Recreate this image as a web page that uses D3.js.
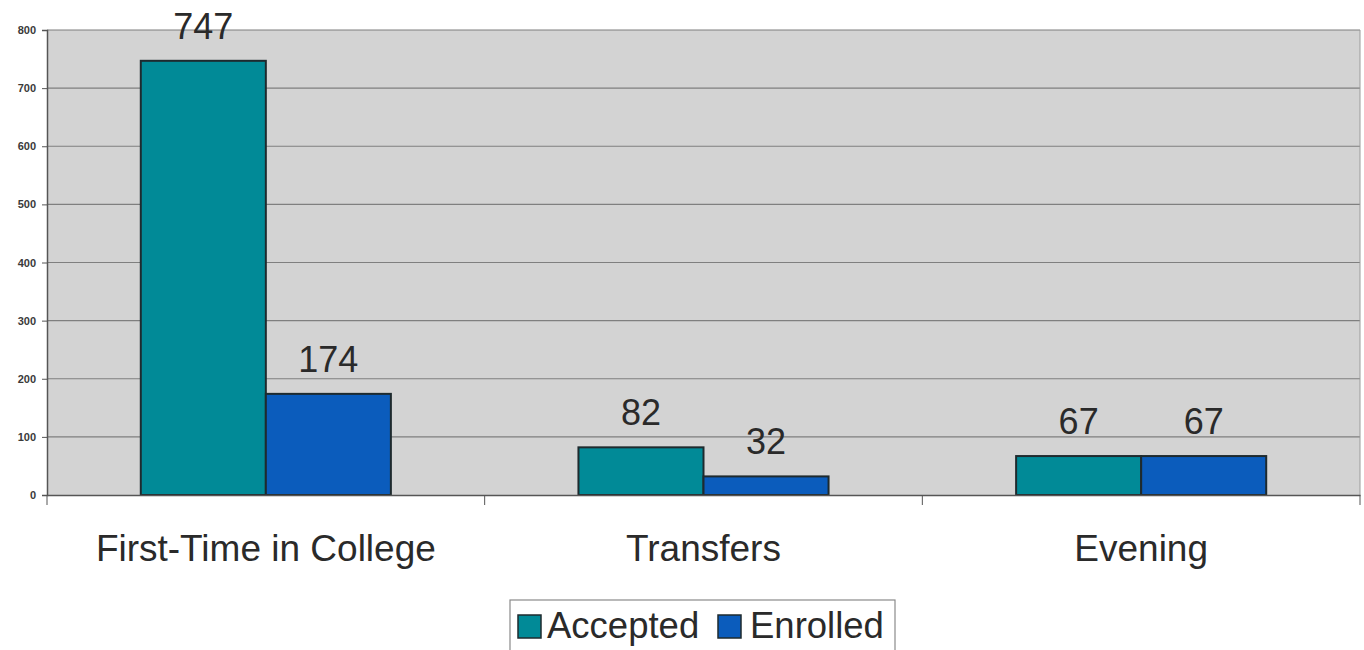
<!DOCTYPE html>
<html><head><meta charset="utf-8">
<script src="https://cdn.jsdelivr.net/npm/d3@7"></script>
<style>
html,body{margin:0;padding:0;background:#fff;}
svg{display:block;font-family:"Liberation Sans",Arial,sans-serif;}
</style></head>
<body>
<svg id="chart" width="1364" height="650"></svg>
<script>
const categories = ["First-Time in College", "Transfers", "Evening"];
const seriesNames = ["Accepted", "Enrolled"];
const accepted = [747, 82, 67];
const enrolled = [174, 32, 67];
const yTicks = [0, 100, 200, 300, 400, 500, 600, 700, 800];
const colors = ["#018a97", "#0b5cbc"];

const svg = d3.select("#chart");
const m = {left: 47, right: 1360, top: 30, bottom: 495};

const x = d3.scaleBand().domain(categories).range([m.left, m.right]).padding(0);
const inner = d3.scaleBand().domain(seriesNames).range([0, x.bandwidth()]).paddingInner(0).paddingOuter(0.75);
const y = d3.scaleLinear().domain([0, 800]).range([m.bottom, m.top]);

// plot background
svg.append("rect").attr("x", m.left).attr("y", m.top)
  .attr("width", m.right - m.left).attr("height", m.bottom - m.top)
  .attr("fill", "#d3d3d3");

// gridlines
svg.append("g").selectAll("line").data(yTicks.filter(d => d > 0)).join("line")
  .attr("x1", m.left).attr("x2", m.right)
  .attr("y1", d => y(d)).attr("y2", d => y(d))
  .attr("stroke", "#7f7f7f").attr("stroke-width", 1.2);

// right border
svg.append("line").attr("x1", m.right).attr("x2", m.right).attr("y1", m.top).attr("y2", m.bottom)
  .attr("stroke", "#9a9a9a").attr("stroke-width", 1);

// bars
const data = categories.map((c, i) => ({c, vals: [accepted[i], enrolled[i]]}));
const groups = svg.append("g").selectAll("g").data(data).join("g")
  .attr("transform", d => `translate(${x(d.c)},0)`);
groups.selectAll("rect").data(d => d.vals.map((v, j) => ({v, s: seriesNames[j], j}))).join("rect")
  .attr("x", d => inner(d.s)).attr("y", d => y(d.v))
  .attr("width", inner.bandwidth()).attr("height", d => y(0) - y(d.v))
  .attr("fill", d => colors[d.j]).attr("stroke", "#1e2a2e").attr("stroke-width", 2);
groups.selectAll("text").data(d => d.vals.map((v, j) => ({v, s: seriesNames[j], j}))).join("text")
  .attr("x", d => inner(d.s) + inner.bandwidth() / 2).attr("y", d => y(d.v) - 22)
  .attr("text-anchor", "middle").attr("font-size", 36).attr("fill", "#2a2a2a")
  .text(d => d.v);

// y axis
const yAxis = svg.append("g").attr("transform", `translate(${m.left},0)`)
  .call(d3.axisLeft(y).tickValues(yTicks).tickSize(5).tickPadding(6));
yAxis.select(".domain").attr("stroke", "#555").attr("stroke-width", 1.5);
yAxis.selectAll(".tick line").attr("stroke", "#555");
yAxis.selectAll("text").attr("font-size", 11).attr("font-weight", "bold")
  .attr("fill", "#3a3a3a").attr("font-family", "'Liberation Sans',Arial,sans-serif");

// x axis
const xAxis = svg.append("g").attr("transform", `translate(0,${m.bottom})`)
  .call(d3.axisBottom(x).tickSize(0).tickPadding(40));
xAxis.select(".domain").attr("stroke", "#555").attr("stroke-width", 1.5);
xAxis.selectAll("text").attr("font-size", 37).attr("fill", "#2a2a2a")
  .attr("font-family", "'Liberation Sans',Arial,sans-serif");
// category boundary ticks
svg.append("g").selectAll("line").data(categories).join("line")
  .attr("x1", d => x(d)).attr("x2", d => x(d))
  .attr("y1", m.bottom).attr("y2", m.bottom + 10)
  .attr("stroke", "#555").attr("stroke-width", 1);
svg.append("line").attr("x1", m.right).attr("x2", m.right)
  .attr("y1", m.bottom).attr("y2", m.bottom + 10).attr("stroke", "#555");

// legend
const lg = svg.append("g");
lg.append("rect").attr("x", 510).attr("y", 600).attr("width", 385).attr("height", 60)
  .attr("fill", "#fff").attr("stroke", "#8a8a8a").attr("stroke-width", 1.2);
const legendX = [518, 718];
seriesNames.forEach((s, i) => {
  lg.append("rect").attr("x", legendX[i]).attr("y", 615).attr("width", 23).attr("height", 23)
    .attr("fill", colors[i]).attr("stroke", "#1e2a2e").attr("stroke-width", 1.5);
  lg.append("text").attr("x", legendX[i] + (i === 0 ? 29 : 32)).attr("y", 638)
    .attr("font-size", 36.5).attr("fill", "#2a2a2a").text(s);
});
</script>
</body></html>
